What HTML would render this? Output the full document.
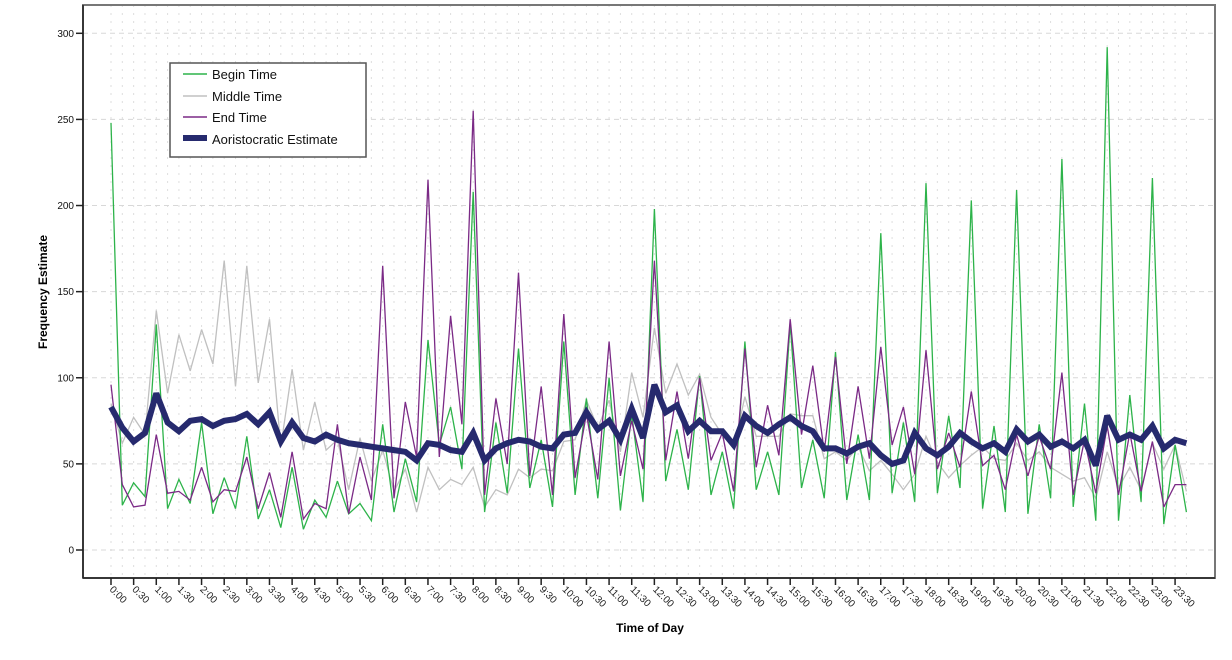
<!DOCTYPE html>
<html><head><meta charset="utf-8"><style>
html,body{margin:0;padding:0;background:#fff;}
svg{display:block;font-family:"Liberation Sans",sans-serif;}
</style></head><body>
<svg id="chart" width="1232" height="660" viewBox="0 0 1232 660" xmlns="http://www.w3.org/2000/svg">
<g id="grid"></g>
<g id="series"></g>
<g id="axes"></g>
<text x="47" y="292" transform="rotate(-90 47 292)" text-anchor="middle" font-size="12" font-weight="bold" fill="#000">Frequency Estimate</text>
<text x="650" y="632" text-anchor="middle" font-size="12" font-weight="bold" fill="#000">Time of Day</text>
<g>
<rect x="170" y="63" width="196" height="94" fill="#fff" stroke="#555" stroke-width="1.5"/>
<line x1="183" y1="74" x2="207" y2="74" stroke="#2db34a" stroke-width="1.5"/>
<text x="212" y="79" font-size="13" fill="#111">Begin Time</text>
<line x1="183" y1="96" x2="207" y2="96" stroke="#c0c0c0" stroke-width="1.5"/>
<text x="212" y="101" font-size="13" fill="#111">Middle Time</text>
<line x1="183" y1="117" x2="207" y2="117" stroke="#7b2a86" stroke-width="1.5"/>
<text x="212" y="122" font-size="13" fill="#111">End Time</text>
<rect x="183" y="135" width="24" height="6" fill="#262a6e"/>
<text x="212" y="144" font-size="13" fill="#111">Aoristocratic Estimate</text>
</g>
</svg>
<script>
const yTicks = [0, 50, 100, 150, 200, 250, 300];
const begin = [248,26,39,31,131,24,41,27,74,21,42,24,66,18,35,13,48,12,29,19,
40,21,27,17,73,22,53,28,122,61,83,47,208,22,74,33,117,36,64,25,
121,32,88,30,100,23,79,28,198,40,70,35,101,32,57,24,121,35,57,32,
132,36,64,30,115,29,67,29,184,33,74,28,213,33,78,36,203,24,72,22,
209,21,73,30,227,25,85,17,292,17,90,28,216,15,61,22];
const middle = [85,62,77,67,139,91,125,104,128,108,168,95,165,97,134,60,105,58,86,58,
64,35,65,40,58,34,47,22,48,35,41,38,48,25,35,32,47,42,47,46,
63,64,87,71,87,57,103,77,129,91,108,90,102,77,67,59,89,66,66,66,
79,78,78,53,57,52,60,46,52,44,35,44,66,51,42,49,55,60,53,52,
62,52,57,48,44,40,42,30,57,36,48,35,62,47,61,34];
const endT = [96,38,25,26,67,33,34,29,48,28,35,34,54,24,45,19,57,18,27,24,
73,21,54,29,165,30,86,54,215,54,136,73,255,32,88,50,161,43,95,32,
137,42,79,41,121,43,75,47,168,52,92,53,100,52,68,34,117,48,84,55,
134,67,107,57,112,50,95,53,118,61,83,44,116,47,68,48,92,49,55,35,
67,43,66,47,103,32,64,33,72,32,68,34,63,25,38,38];
const aoristic = [83,71,63,68,91,74,69,75,76,72,75,76,79,73,80,63,74,65,63,67,
64,62,61,60,59,58,57,52,62,61,58,57,68,52,59,62,64,63,60,59,
67,68,80,70,75,64,82,65,96,80,84,69,75,69,69,61,78,72,68,73,
77,72,69,59,59,56,60,62,55,50,52,68,59,55,60,68,63,59,62,57,
70,63,67,60,63,59,64,49,78,64,67,64,72,59,64,62];
const xLabels = [];
for (let h = 0; h < 24; h++) { xLabels.push(h + ":00"); xLabels.push(h + ":30"); }

const NS = "http://www.w3.org/2000/svg";
const L = 83, R = 1215, T = 5, B = 578;
const x0 = 111, step = 11.32;
function xScale(i) { return x0 + i * step; }
function yScale(v) { return 550 - v * (516.7 / 300); }
function mk(tag, attrs, parent) {
  const e = document.createElementNS(NS, tag);
  for (const k in attrs) e.setAttribute(k, attrs[k]);
  parent.appendChild(e); return e;
}
const grid = document.getElementById('grid');
const axes = document.getElementById('axes');
const series = document.getElementById('series');

for (let i = 0; i < begin.length; i++) {
  const g = mk('line', {x1: xScale(i), x2: xScale(i), y1: T, y2: B, stroke: '#dedede', 'stroke-width': 1, 'stroke-dasharray': '2 6'}, grid);
  
  
}
yTicks.forEach(v => {
  const g = mk('line', {x1: L, x2: R, y1: yScale(v), y2: yScale(v), stroke: '#d8d8d8', 'stroke-width': 1, 'stroke-dasharray': '5 4'}, grid);
  
  
});

function drawLine(vals, color, width, name) {
  const d = vals.map((v, i) => (i ? 'L' : 'M') + xScale(i).toFixed(1) + ' ' + yScale(v).toFixed(1)).join(' ');
  const p = mk('path', {d: d, fill: 'none', stroke: color, 'stroke-width': width, 'stroke-linejoin': 'miter', 'stroke-miterlimit': 3}, series);
  
  
}
drawLine(middle, '#c0c0c0', 1.3, 'middle-time-line');
drawLine(begin, '#2db34a', 1.3, 'begin-time-line');
drawLine(endT, '#7b2a86', 1.3, 'end-time-line');
drawLine(aoristic, '#262a6e', 6, 'aoristic-estimate-line');

const fr = mk('rect', {x: L, y: T, width: R - L, height: B - T, fill: 'none', stroke: '#777', 'stroke-width': 2}, axes);


const ya = mk('line', {x1: L, x2: L, y1: T, y2: B, stroke: '#222', 'stroke-width': 1.5}, axes);


const xa = mk('line', {x1: L, x2: R, y1: B, y2: B, stroke: '#222', 'stroke-width': 1.5}, axes);



yTicks.forEach(v => {
  const t = mk('line', {x1: L - 7, x2: L, y1: yScale(v), y2: yScale(v), stroke: '#222', 'stroke-width': 1.5}, axes);
  
  
  const tx = mk('text', {x: L - 9, y: yScale(v) + 3.5, 'text-anchor': 'end', 'font-size': 10, fill: '#111'}, axes);
  
  
  tx.textContent = v;
});
xLabels.forEach((lab, k) => {
  const x = xScale(k * 2);
  const t = mk('line', {x1: x, x2: x, y1: B, y2: B + 7, stroke: '#222', 'stroke-width': 1.5}, axes);
  
  
  const tx = mk('text', {x: x - 2, y: B + 12, 'font-size': 10, fill: '#222', transform: 'rotate(45 ' + (x - 2) + ' ' + (B + 12) + ')'}, axes);
  
  
  tx.textContent = lab;
});
</script>
</body></html>
